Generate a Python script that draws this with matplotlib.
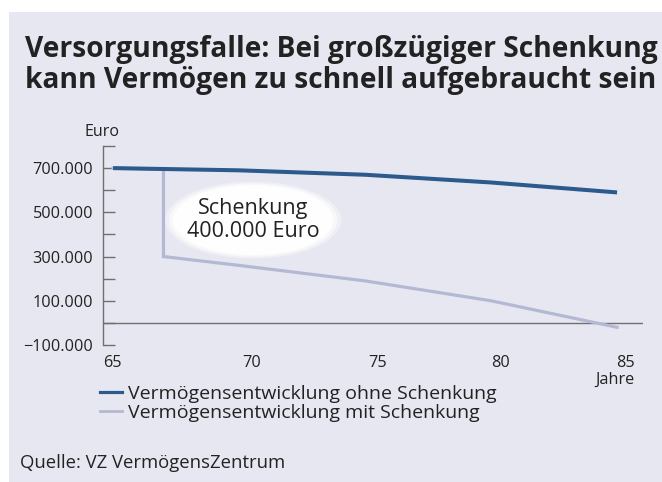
import matplotlib
matplotlib.use("Agg")
import matplotlib.pyplot as plt
from matplotlib.patches import Rectangle, Ellipse
from matplotlib.transforms import ScaledTranslation
from matplotlib.lines import Line2D

# ---------------- data ----------------
ages_base = [65, 70, 75, 80, 85]
value_base = [700000, 690000, 670000, 635000, 590000]
ages_gift = [65, 67, 67, 70, 75, 80, 85]
value_gift = [700000, 695000, 300000, 260000, 190000, 100000, -20000]
x_ticks = [65, 70, 75, 80, 85]
y_ticks = list(range(-100000, 800001, 100000))
y_labeled = [-100000, 100000, 300000, 500000, 700000]
legend_labels = ["Vermögensentwicklung ohne Schenkung", "Vermögensentwicklung mit Schenkung"]
title_lines = ["Versorgungsfalle: Bei großzügiger Schenkung",
               "kann Vermögen zu schnell aufgebraucht sein"]
annotation = "Schenkung\n400.000 Euro"
source = "Quelle: VZ VermögensZentrum"

# ---------------- style ----------------
FONT = ["Open Sans", "DejaVu Sans"]
plt.rcParams["font.family"] = FONT
BG = "#e7e7f1"
BLUE = "#2c5a8c"
GRAY = "#b4b9d3"
AXIS = "#707070"
TXT = "#222222"

W, H = 662, 482
fig = plt.figure(figsize=(W / 100, H / 100), dpi=100)
fig.patch.set_facecolor("white")
fig.add_artist(Rectangle((9 / W, 0), 1, (H - 12) / H, transform=fig.transFigure,
                         facecolor=BG, edgecolor="none", zorder=-10))

def fx(px):
    return px / W

def fy(py):
    return (H - py) / H

# title, fitted to width
renderer = fig.canvas.get_renderer()
tsize = 22
t1 = fig.text(fx(25), fy(57), title_lines[0], fontsize=tsize, fontweight="bold",
              color=TXT, va="baseline", ha="left")
t2 = fig.text(fx(25), fy(88), title_lines[1], fontsize=tsize, fontweight="bold",
              color=TXT, va="baseline", ha="left")
wmax = max(t.get_window_extent(renderer).width for t in (t1, t2))
tsize = tsize * 628 / wmax
t1.set_fontsize(tsize)
t2.set_fontsize(tsize)

fig.text(fx(102), fy(132), "Euro", fontsize=11.5, color=TXT, ha="center", va="center")

ax = fig.add_axes([fx(103), fy(345), (643 - 103) / W, (345 - 146) / H])
ax.patch.set_visible(False)
ax.set_xlim(64.6, 86.03)
ax.set_ylim(-100000, 800000)

for s in ("top", "right", "bottom"):
    ax.spines[s].set_visible(False)
ax.spines["left"].set_color(AXIS)
ax.spines["left"].set_linewidth(1.0)

ax.axhline(0, color=AXIS, lw=1.0, zorder=1)

ax.plot(ages_gift, value_gift, color=GRAY, lw=2.3, solid_joinstyle="miter", zorder=2)
ax.plot(ages_base, value_base, color=BLUE, lw=2.9, solid_capstyle="butt", zorder=3)

# annotation ellipse
ex, ey = 70.56, 465000
for k, a in [(1.10, 0.35), (1.05, 0.6), (1.0, 0.95)]:
    ax.add_patch(Ellipse((ex, ey), 6.35 * k, 316000 * k, facecolor="white",
                         edgecolor="none", alpha=a, zorder=4))
ax.text(ex, ey, annotation, fontsize=15.5, color=TXT, ha="center", va="center",
        linespacing=1.15, zorder=5)

def fmt(v):
    s = f"{abs(v):,}".replace(",", ".")
    return ("\u2212" + s) if v < 0 else s

ax.set_yticks(y_ticks)
ax.set_yticklabels([fmt(v) if v in y_labeled else "" for v in y_ticks])
ax.tick_params(axis="y", direction="in", length=8.6, width=1.0, color=AXIS,
               pad=7, labelsize=11.7, labelcolor=TXT)

ax.set_xticks(x_ticks)
ax.set_xticklabels([str(v) for v in x_ticks])
ax.tick_params(axis="x", length=0, pad=7.5, labelsize=11.7, labelcolor=TXT)
offsets = [-1, 13, 12, 9, 8]
for lab, off in zip(ax.get_xticklabels(), offsets):
    lab.set_transform(lab.get_transform() + ScaledTranslation(off / 100, 0, fig.dpi_scale_trans))

fig.text(fx(635), fy(380), "Jahre", fontsize=11.7, color=TXT, ha="right", va="center")

# legend
handles = [Line2D([], [], color=BLUE, lw=2.3), Line2D([], [], color=GRAY, lw=2.0)]
fig.legend(handles, legend_labels, loc="upper left", bbox_to_anchor=(fx(100), fy(385)),
           frameon=False, fontsize=14, handlelength=1.15, handletextpad=0.3,
           labelspacing=0.05, borderpad=0, borderaxespad=0, labelcolor=TXT)

fig.text(fx(20), fy(463), source, fontsize=13.3, color=TXT, ha="left", va="center")

fig.savefig("out.png", dpi=100, facecolor=fig.get_facecolor())
